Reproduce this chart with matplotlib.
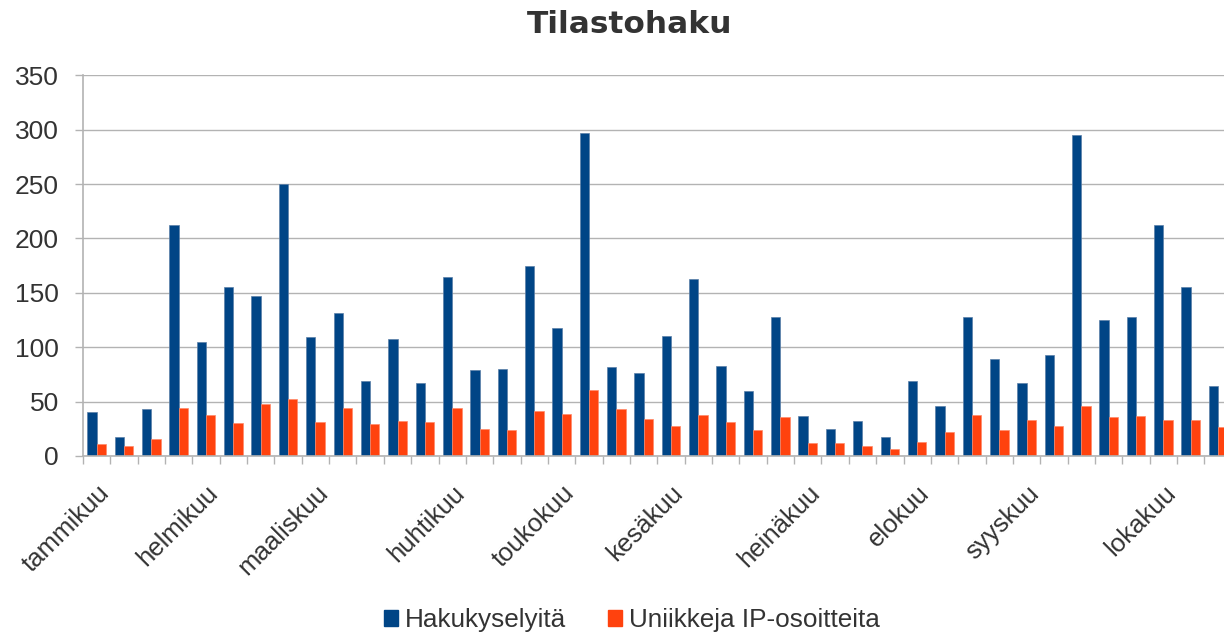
import matplotlib
matplotlib.use("Agg")
import matplotlib.pyplot as plt
import matplotlib.transforms as mtransforms
from matplotlib.patches import Patch
import numpy as np

# viikoittaiset arvot (luettu kuvasta)
hakukyselyt = [40, 17, 43, 212, 105, 155, 147, 250, 109, 131, 69, 108, 67, 165,
               79, 80, 175, 118, 297, 82, 76, 110, 163, 83, 60, 128, 37, 25,
               32, 17, 69, 46, 128, 89, 67, 93, 295, 125, 128, 212, 155, 64]
uniikit_ip = [11, 9, 16, 44, 38, 30, 48, 52, 31, 44, 29, 32, 31, 44, 25, 24, 41,
              39, 61, 43, 34, 28, 38, 31, 24, 36, 12, 12, 9, 6, 13, 22, 38, 24,
              33, 28, 46, 36, 37, 33, 33, 27]
kuukaudet = ["tammikuu", "helmikuu", "maaliskuu", "huhtikuu", "toukokuu",
             "kesäkuu", "heinäkuu", "elokuu", "syyskuu", "lokakuu"]
kuukausi_viikko = [0, 4, 8, 13, 17, 21, 26, 30, 34, 39]
sarjat = ["Hakukyselyitä", "Uniikkeja IP-osoitteita"]

BLUE = "#004586"
RED = "#ff420e"
GRID = "#b3b3b3"
TEXT = "#333333"

plt.rcParams["font.family"] = ["Liberation Sans", "DejaVu Sans"]

fig = plt.figure(figsize=(12.24, 6.34), dpi=100)
ax = fig.add_axes([0.0678, 0.2808, 0.9385, 0.6004])

x = np.arange(len(hakukyselyt))
w = 0.34
ax.bar(x - w / 2, hakukyselyt, w, color=BLUE, edgecolor="#5b7fa8", linewidth=0.5)
ax.bar(x + w / 2, uniikit_ip, w, color=RED, edgecolor="#ff8a6a", linewidth=0.5)

ax.set_xlim(-0.5, len(x) - 0.5)
ax.set_ylim(0, 350)
ax.set_yticks(range(0, 351, 50))
ax.yaxis.grid(True, color=GRID, linewidth=1.0)
ax.set_axisbelow(True)

# väliviivat kategorioiden rajoilla, nimet kuukauden ensimmäiselle viikolle
ax.set_xticks(np.arange(-0.5, len(x), 1), minor=True)
ax.set_xticks(kuukausi_viikko)
ax.set_xticklabels(kuukaudet, rotation=45, ha="right", va="top",
                   rotation_mode="anchor")
offset = mtransforms.ScaledTranslation(-3 / 100, 1 / 100, fig.dpi_scale_trans)
for lab in ax.get_xticklabels():
    lab.set_transform(lab.get_transform() + offset)

ax.tick_params(axis="x", which="major", length=0, pad=18, labelsize=18.5,
               labelcolor=TEXT)
ax.tick_params(axis="x", which="minor", length=5.8, width=1.0, color=GRID)
ax.tick_params(axis="y", length=5.8, width=1.0, color=GRID, labelsize=19,
               labelcolor=TEXT, pad=11.5)

for side in ["top", "right"]:
    ax.spines[side].set_visible(False)
for side in ["left", "bottom"]:
    ax.spines[side].set_color(GRID)
    ax.spines[side].set_linewidth(1.2)

fig.text(0.514, 0.962, "Tilastohaku", ha="center", va="center",
         fontsize=22.5, fontweight="bold", color=TEXT, family="DejaVu Sans")

handles = [Patch(color=BLUE), Patch(color=RED)]
fig.legend(handles, sarjat, loc="center", bbox_to_anchor=(0.516, 0.022),
           ncol=2, frameon=False, fontsize=18.8, labelcolor=TEXT,
           handlelength=0.55, handleheight=0.55, handletextpad=0.25,
           columnspacing=1.6)

fig.savefig("out.png", dpi=100)
